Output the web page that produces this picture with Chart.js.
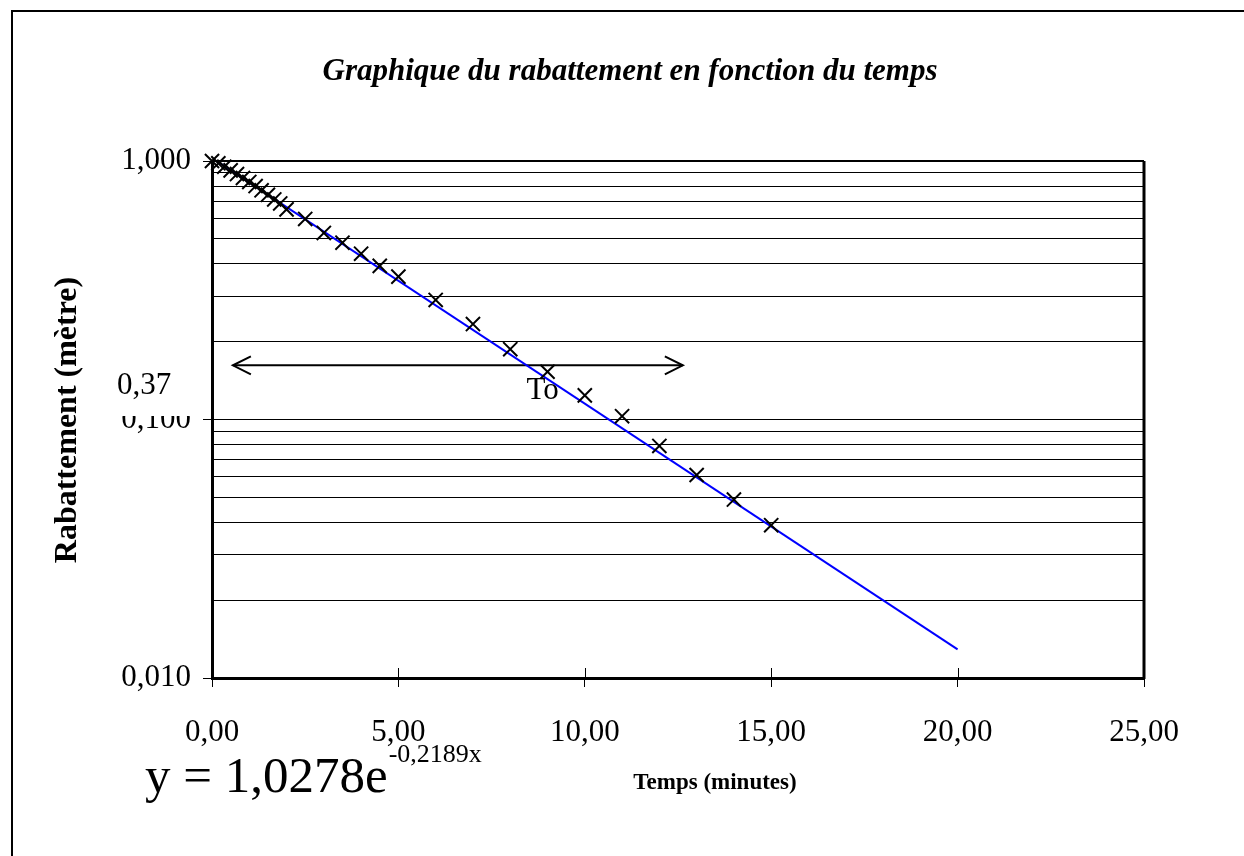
<!DOCTYPE html>
<html>
<head>
<meta charset="utf-8">
<script src="https://cdn.jsdelivr.net/npm/chart.js@4/dist/chart.umd.min.js"></script>
<style>
  body { margin: 0; background: #fff; overflow: hidden; }
  canvas { display: block; }
</style>
</head>
<body>
<canvas id="rabChart" width="1244" height="856"></canvas>
<script>
// measured points (time in minutes, drawdown in metres)
const timesMin = [0, 0.17, 0.33, 0.5, 0.67, 0.83, 1, 1.17, 1.33, 1.5, 1.67, 1.83, 2,
    2.5, 3, 3.5, 4, 4.5, 5, 6, 7, 8, 9, 10, 11, 12, 13, 14, 15];
const drawdown = [1.000, 0.98, 0.95, 0.92, 0.89, 0.86, 0.83, 0.80, 0.77, 0.74, 0.71, 0.685, 0.65,
    0.597, 0.527, 0.483, 0.438, 0.393, 0.357, 0.290, 0.234, 0.187, 0.153, 0.124, 0.103,
    0.079, 0.061, 0.049, 0.039];

// exponential trendline end points (straight on a log axis)
const trendX = [0, 20];
const trendY = [1.0278, 0.0129];

// double arrow for To
const arrowX = [0.56, 12.63];
const arrowY = [0.162, 0.162];
const toLabel = { x: 8.87, y: 0.12 };

const yTicks = [0.01, 0.02, 0.03, 0.04, 0.05, 0.06, 0.07, 0.08, 0.09,
    0.1, 0.2, 0.3, 0.4, 0.5, 0.6, 0.7, 0.8, 0.9, 1];
const yMajor = [0.01, 0.1, 1];

const serif = '"Liberation Serif", "Times New Roman", serif';

function isMajor(v) {
    return yMajor.some(m => Math.abs(m - v) < 1e-9);
}

const extras = {
    id: 'extras',
    afterDatasetsDraw(chart) {
        const ctx = chart.ctx;
        const pts = chart.getDatasetMeta(2).data;
        if (pts.length < 2) return;
        const a = pts[0], b = pts[1];
        ctx.save();
        ctx.strokeStyle = '#000';
        ctx.lineWidth = 2;
        ctx.beginPath();
        ctx.moveTo(a.x + 18, a.y - 9); ctx.lineTo(a.x, a.y); ctx.lineTo(a.x + 18, a.y + 9);
        ctx.moveTo(b.x - 18, b.y - 9); ctx.lineTo(b.x, b.y); ctx.lineTo(b.x - 18, b.y + 9);
        ctx.stroke();
        ctx.restore();
    },
    afterDraw(chart) {
        const ctx = chart.ctx;
        const area = chart.chartArea;
        const xs = chart.scales.x, ys = chart.scales.y;
        ctx.save();

        // outer chart border
        ctx.strokeStyle = '#000';
        ctx.lineWidth = 2;
        ctx.strokeRect(12, 11, 1400, 1000);

        // plot frame, top and right
        ctx.beginPath();
        ctx.lineWidth = 2;
        ctx.moveTo(area.left, area.top); ctx.lineTo(area.right, area.top);
        ctx.stroke();
        ctx.beginPath();
        ctx.lineWidth = 3;
        ctx.moveTo(area.right, area.top); ctx.lineTo(area.right, area.bottom + 1);
        ctx.stroke();

        // x ticks crossing the axis
        ctx.lineWidth = 1;
        ctx.beginPath();
        xs.ticks.forEach(t => {
            const px = Math.round(xs.getPixelForValue(t.value)) + 0.5;
            ctx.moveTo(px, area.bottom - 10); ctx.lineTo(px, area.bottom);
        });
        ctx.stroke();

        ctx.fillStyle = '#000';
        ctx.textBaseline = 'alphabetic';

        // title
        ctx.font = 'italic bold 31px ' + serif;
        ctx.textAlign = 'center';
        ctx.fillText('Graphique du rabattement en fonction du temps', 630, 80);

        // axis titles
        ctx.font = 'bold 23px ' + serif;
        ctx.fillText('Temps (minutes)', 715, 789);
        ctx.save();
        ctx.translate(76, 420);
        ctx.rotate(-Math.PI / 2);
        ctx.font = 'bold 32px ' + serif;
        ctx.fillText('Rabattement (mètre)', 0, 0);
        ctx.restore();

        // 0,37 text box overlapping the 0,100 label
        ctx.fillStyle = '#fff';
        ctx.fillRect(108, 366, 92, 50);
        ctx.fillStyle = '#000';
        ctx.font = '31px ' + serif;
        ctx.textAlign = 'left';
        ctx.fillText('0,37', 117, 394);

        // To label
        ctx.textAlign = 'center';
        ctx.fillText('To', xs.getPixelForValue(toLabel.x), ys.getPixelForValue(toLabel.y));

        // trendline equation
        ctx.textAlign = 'left';
        ctx.font = '51px ' + serif;
        const base = 'y = 1,0278e';
        ctx.fillText(base, 145, 792);
        const w = ctx.measureText(base).width;
        ctx.font = '26px ' + serif;
        ctx.fillText('-0,2189x', 145 + w + 1, 762);

        ctx.restore();
    }
};

new Chart(document.getElementById('rabChart'), {
    type: 'scatter',
    data: {
        datasets: [
            {
                label: 'Rabattement',
                data: timesMin.map((t, i) => ({ x: t, y: drawdown[i] })),
                pointStyle: 'crossRot',
                pointRadius: 10,
                pointBorderWidth: 2,
                borderColor: '#000',
                backgroundColor: '#000',
                showLine: false,
                clip: false
            },
            {
                label: 'Tendance',
                data: trendX.map((t, i) => ({ x: t, y: trendY[i] })),
                showLine: true,
                borderColor: '#0000ff',
                borderWidth: 2,
                pointRadius: 0
            },
            {
                label: 'To',
                data: arrowX.map((t, i) => ({ x: t, y: arrowY[i] })),
                showLine: true,
                borderColor: '#000',
                borderWidth: 2,
                pointRadius: 0
            }
        ]
    },
    options: {
        responsive: false,
        animation: false,
        layout: { padding: { top: 161, right: 100, left: 0, bottom: 0 } },
        plugins: {
            legend: { display: false },
            tooltip: { enabled: false }
        },
        scales: {
            x: {
                type: 'linear',
                min: 0,
                max: 25,
                afterFit: s => { s.height = 178; },
                ticks: {
                    stepSize: 5,
                    maxRotation: 0,
                    color: '#000',
                    padding: 27,
                    font: { family: serif, size: 31 },
                    callback: v => v.toFixed(2).replace('.', ',')
                },
                grid: { drawOnChartArea: false, tickLength: 9, tickColor: '#000' },
                border: { color: '#000', width: 3 }
            },
            y: {
                type: 'logarithmic',
                min: 0.01,
                max: 1,
                afterFit: s => { s.width = 212; },
                afterBuildTicks: s => { s.ticks = yTicks.map(v => ({ value: v })); },
                ticks: {
                    autoSkip: false,
                    color: '#000',
                    padding: 12,
                    font: { family: serif, size: 31 },
                    callback: v => isMajor(v) ? v.toFixed(3).replace('.', ',') : ''
                },
                grid: {
                    color: '#000',
                    lineWidth: 1,
                    tickLength: 9,
                    tickColor: c => (c.tick && isMajor(c.tick.value)) ? '#000' : 'rgba(0,0,0,0)'
                },
                border: { color: '#000', width: 3 }
            }
        }
    },
    plugins: [extras]
});
</script>
</body>
</html>
